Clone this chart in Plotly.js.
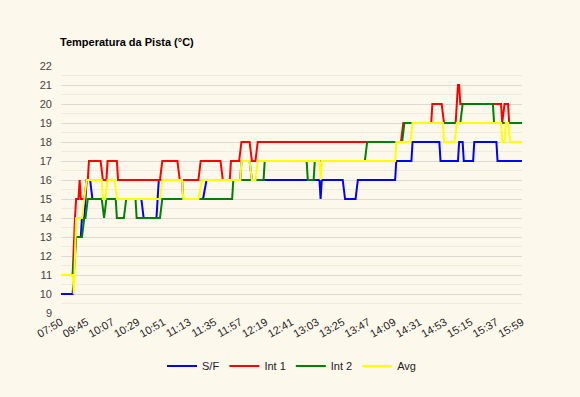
<!DOCTYPE html>
<html>
<head>
<meta charset="utf-8">
<script src="https://cdn.plot.ly/plotly-3.0.1.min.js"></script>
<style>
  html, body { margin: 0; padding: 0; background: #fdf8ec; }
  #chart { width: 580px; height: 397px; }
</style>
</head>
<body>
<div id="chart"></div>
<script>
// Tick labels (one every 22 readings)
const tickLabels = ["07:50","09:45","10:07","10:29","10:51","11:13","11:35","11:57","12:19","12:41","13:03","13:25","13:47","14:09","14:31","14:53","15:15","15:37","15:59"];
const ticksEvery = 22;

// Series as change points: reading index, temperature
const sfX = [0,10,13,17,18,20,22,25,27,69,71,82,84,104,105,122,125,154,155,162,164,222,223,224,242,244,253,255,287,288,301,302,325,326,341,342,345,346,354,355,374,375,396];
const sfY = [10,10,13,13,14,14,16,16,15,15,14,14,16,16,15,15,16,16,17,17,16,16,15,16,16,15,15,16,16,17,17,18,18,17,17,18,18,17,17,18,18,17,17];

const int1X = [0,10,12,13,15,16,17,20,22,23,24,34,36,39,40,48,49,85,87,100,102,118,120,137,139,145,146,153,155,162,164,167,169,292,294,318,319,327,329,339,340,341,342,343,378,379,381,384,385,396];
const int1Y = [11,11,14,15,15,16,15,15,16,16,17,17,16,16,17,17,16,16,17,17,16,16,17,17,16,16,17,17,18,18,17,17,18,18,19,19,20,20,19,19,20,21,21,20,20,19,20,20,19,19];

const int2X = [0,10,13,18,20,21,23,35,37,39,47,48,54,56,64,65,85,87,147,148,174,175,211,212,217,218,261,263,293,295,343,345,371,372,396];
const int2Y = [11,11,13,13,14,14,15,15,14,15,15,14,14,15,15,14,14,15,15,16,16,17,17,16,16,17,17,18,18,19,19,20,20,19,19];

const avgX = [0,10,11,13,18,20,22,35,36,38,40,46,48,85,87,104,105,118,121,154,155,162,164,167,169,222,223,224,287,288,300,302,328,329,338,340,378,379,381,382,384,386,396];
const avgY = [11,11,10,14,14,15,16,16,15,15,16,16,15,15,16,16,15,15,16,16,17,17,16,16,17,17,16,17,17,18,18,19,19,18,18,19,19,18,18,19,19,18,18];

const names = ["S/F","Int 1","Int 2","Avg"];
const colors = ["#0000ff","#ff0000","#008000","#ffff00"];
const xs = [sfX, int1X, int2X, avgX];
const ys = [sfY, int1Y, int2Y, avgY];

const traces = names.map((n, i) => ({
  type: "scatter",
  mode: "lines",
  name: n,
  x: xs[i],
  y: ys[i],
  line: { color: colors[i], width: 2 },
  hoverinfo: "skip"
}));

const tickVals = tickLabels.map((_, i) => i * ticksEvery);
const FONT = "Arial, 'Liberation Sans', sans-serif";

const layout = {
  width: 580,
  height: 397,
  paper_bgcolor: "#fdf8ec",
  plot_bgcolor: "#fdf8ec",
  margin: { l: 61, r: 58, t: 66, b: 84 },
  font: { family: FONT, size: 11, color: "#444" },
  title: {
    text: "<b>Temperatura da Pista (°C)</b>",
    font: { family: FONT, size: 11, color: "#000" },
    xref: "container", x: 60 / 580, xanchor: "left",
    yref: "container", y: 1 - 42.5 / 397, yanchor: "middle"
  },
  xaxis: {
    range: [0, tickVals[tickVals.length - 1]],
    tickmode: "array",
    tickvals: tickVals,
    ticktext: tickLabels,
    tickangle: -30,
    showgrid: false,
    zeroline: false,
    showline: false,
    ticks: "",
    tickfont: { family: FONT, size: 11, color: "#222" }
  },
  yaxis: {
    range: [9, 22],
    dtick: 1,
    tick0: 9,
    showgrid: true,
    gridcolor: "#dcdad2",
    gridwidth: 1,
    zeroline: false,
    showline: false,
    ticks: "",
    ticklabelstandoff: 8,
    tickfont: { family: FONT, size: 11, color: "#444" },
    minor: { dtick: 0.5, tick0: 9, showgrid: true, gridcolor: "#eeeae0", gridwidth: 1 }
  },
  showlegend: true,
  legend: {
    orientation: "h",
    x: 0.5, xanchor: "center",
    y: -0.2146, yanchor: "middle",
    font: { family: FONT, size: 11, color: "#222" },
    bgcolor: "rgba(0,0,0,0)",
    itemwidth: 30,
    traceorder: "normal"
  }
};

Plotly.newPlot("chart", traces, layout, { displayModeBar: false, staticPlot: true });
</script>
</body>
</html>
